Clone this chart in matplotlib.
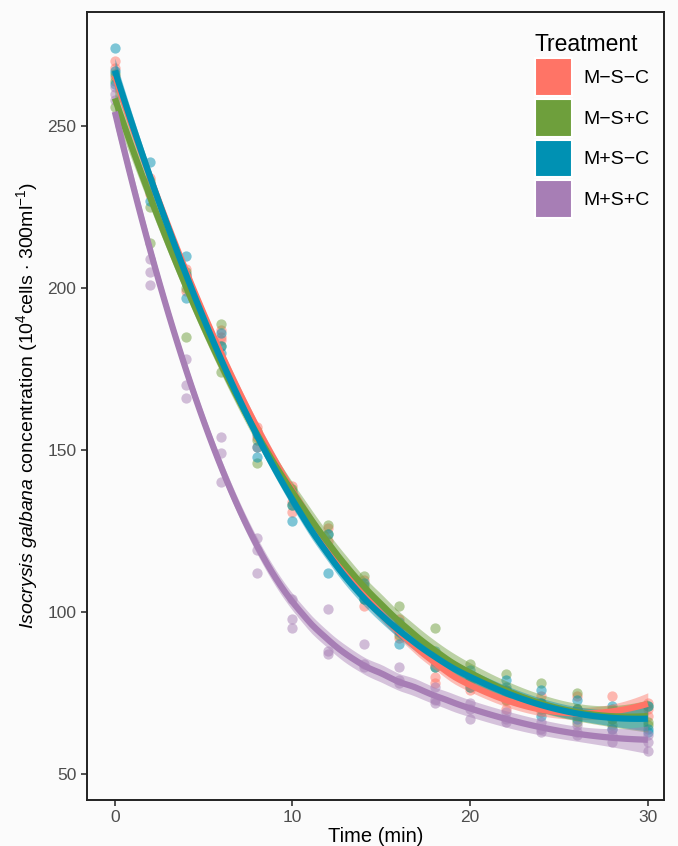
import numpy as np
import matplotlib
matplotlib.use("Agg")
import matplotlib.pyplot as plt
from matplotlib.patches import Patch

plt.rcParams['font.family'] = ['Liberation Sans', 'DejaVu Sans']
plt.rcParams['mathtext.fontset'] = 'custom'
plt.rcParams['mathtext.rm'] = 'Liberation Sans'
plt.rcParams['mathtext.it'] = 'Liberation Sans:italic'

times = [0, 2, 4, 6, 8, 10, 12, 14, 16, 18, 20, 22, 24, 26, 28, 30]
treatments = ["M\u2212S\u2212C", "M\u2212S+C", "M+S\u2212C", "M+S+C"]
colors = ["#FF7466", "#6E9F3C", "#0091B3", "#A77EB5"]

# three replicates per time point
msc = [[270, 268, 265], [234, 230, 229], [206, 204, 199], [187, 185, 184],
       [157, 154, 151], [139, 134, 131], [126, 122, 119], [110, 107, 102],
       [98, 95, 92], [86, 80, 78], [80, 78, 76], [76, 73, 70],
       [74, 71, 69], [74, 70, 68], [74, 69, 67], [72, 70, 68]]
mspc = [[266, 264, 256], [233, 225, 214], [205, 200, 185], [189, 182, 174],
        [156, 153, 146], [138, 136, 133], [127, 124, 120], [111, 108, 104],
        [102, 96, 93], [95, 87, 83], [84, 79, 77], [81, 76, 73],
        [78, 72, 70], [75, 70, 66], [70, 67, 65], [71, 66, 65]]
mpsc = [[274, 267, 263], [239, 230, 227], [210, 204, 197], [186, 182, 180],
        [155, 151, 148], [137, 133, 128], [124, 119, 112], [109, 106, 104],
        [97, 94, 90], [88, 85, 83], [82, 80, 77], [79, 77, 74],
        [76, 72, 68], [73, 70, 67], [71, 68, 64], [71, 64, 63]]
mpspc = [[262, 260, 258], [209, 205, 201], [178, 170, 166], [154, 149, 140],
         [123, 119, 112], [104, 98, 95], [101, 88, 87], [90, 84, 83],
         [83, 79, 78], [77, 73, 72], [72, 70, 67], [69, 67, 66],
         [66, 64, 63], [65, 63, 62], [64, 62, 60], [62, 60, 57]]
series = [msc, mspc, mpsc, mpspc]


def loess(x, y, xg, span=0.75):
    n = len(x)
    q = int(np.ceil(span * n))
    fit = np.empty(len(xg))
    L = np.empty((len(xg), n))
    for i, x0 in enumerate(xg):
        d = np.abs(x - x0)
        h = np.sort(d)[q - 1]
        u = np.clip(d / h, 0, 1)
        w = (1 - u ** 3) ** 3
        X = np.column_stack([np.ones(n), x - x0, (x - x0) ** 2])
        XtW = X.T * w
        A = np.linalg.pinv(XtW @ X) @ XtW
        L[i] = A[0]
        fit[i] = A[0] @ y
    return fit, L


fig = plt.figure(figsize=(6.78, 8.46), dpi=100)
fig.patch.set_facecolor("#FBFBFB")
ax = fig.add_axes([0.128, 0.0544, 0.851, 0.9315])
ax.set_facecolor("#FBFBFB")

xg = np.linspace(0, 30, 120)
for vals, col in zip(series, colors):
    x = np.repeat(times, 3).astype(float)
    y = np.array(vals, dtype=float).ravel()
    ax.scatter(x, y, s=55, color=col, alpha=0.5, linewidths=0, zorder=2)
for vals, col in zip(series, colors):
    x = np.repeat(times, 3).astype(float)
    y = np.array(vals, dtype=float).ravel()
    fit, L = loess(x, y, xg)
    fit_obs, Lobs = loess(x, y, x)
    res = y - fit_obs
    d1 = len(x) - np.trace(Lobs)
    sigma = np.sqrt(np.sum(res ** 2) / d1)
    se = sigma * np.sqrt(np.sum(L ** 2, axis=1))
    ax.fill_between(xg, fit - 2.0 * se, fit + 2.0 * se, color=col, alpha=0.45,
                    linewidth=0, zorder=3)
    ax.plot(xg, fit, color=col, lw=4.5, zorder=4, solid_capstyle='butt')

ax.set_xlim(-1.58, 30.9)
ax.set_ylim(42, 285.2)
ax.set_xticks([0, 10, 20, 30])
ax.set_yticks([50, 100, 150, 200, 250])
ax.tick_params(axis='both', labelsize=12.5, labelcolor="#4D4D4D", color="#333333",
               length=4, width=1.2, direction='out')
for s in ax.spines.values():
    s.set_color("#222222")
    s.set_linewidth(1.4)

ax.set_xlabel("Time (min)", fontsize=14.5, labelpad=1)
ax.set_ylabel(r"$\mathit{Isocrysis\ galbana}$ concentration (10$^{4}$cells $\cdot$ 300ml$^{-1}$)",
              fontsize=14, labelpad=5)

handles = [Patch(facecolor=c, edgecolor='white', linewidth=1.5) for c in colors]
leg = ax.legend(handles, treatments, title="Treatment", loc='upper right',
                bbox_to_anchor=(1.006, 0.996), frameon=False, fontsize=14,
                title_fontsize=16.5, handlelength=1.9, handleheight=2.6,
                labelspacing=0.15, handletextpad=0.6, borderaxespad=0.5)
leg._legend_box.align = "left"

fig.savefig("out.png", dpi=100, facecolor=fig.get_facecolor())
